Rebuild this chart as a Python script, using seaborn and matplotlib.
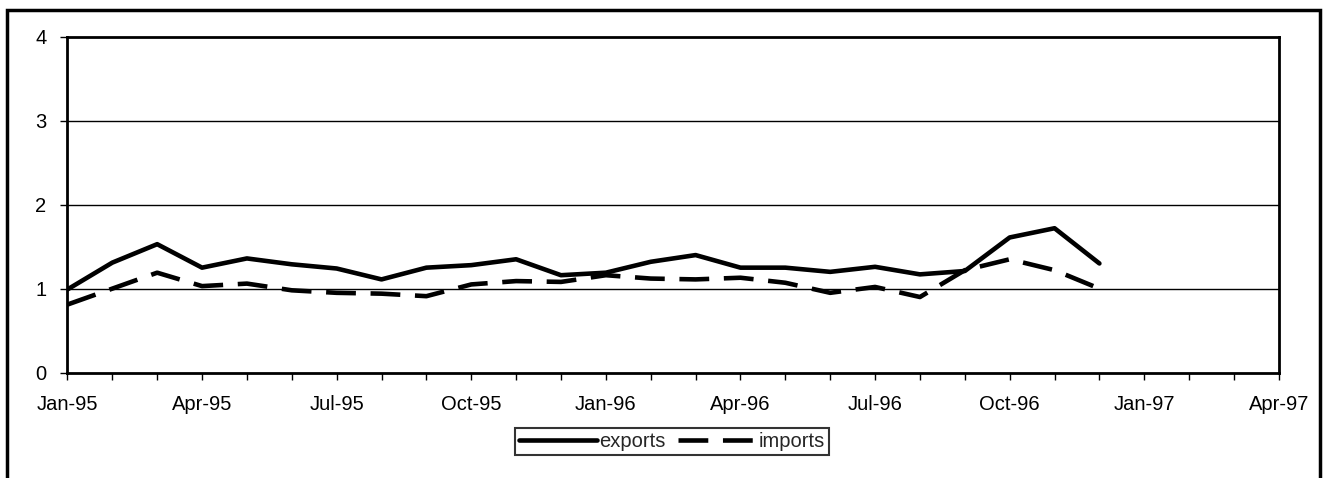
import matplotlib
matplotlib.use("Agg")
import matplotlib.pyplot as plt
from matplotlib.patches import Rectangle
import seaborn as sns
import pandas as pd

# ---- data ----
months = ["Jan-95", "Feb-95", "Mar-95", "Apr-95", "May-95", "Jun-95", "Jul-95", "Aug-95",
          "Sep-95", "Oct-95", "Nov-95", "Dec-95", "Jan-96", "Feb-96", "Mar-96", "Apr-96",
          "May-96", "Jun-96", "Jul-96", "Aug-96", "Sep-96", "Oct-96", "Nov-96", "Dec-96",
          "Jan-97", "Feb-97", "Mar-97", "Apr-97"]
exports = [0.99, 1.31, 1.53, 1.25, 1.36, 1.29, 1.24, 1.11, 1.25, 1.28, 1.35, 1.16,
           1.19, 1.32, 1.40, 1.25, 1.25, 1.20, 1.26, 1.17, 1.21, 1.61, 1.72, 1.30]
imports = [0.81, 1.00, 1.19, 1.03, 1.06, 0.98, 0.95, 0.94, 0.91, 1.05, 1.09, 1.08,
           1.16, 1.12, 1.11, 1.13, 1.07, 0.95, 1.02, 0.90, 1.22, 1.35, 1.22, 1.00]
y_ticks = [0, 1, 2, 3, 4]

rows = []
for name, vals in (("exports", exports), ("imports", imports)):
    for i, v in enumerate(vals):
        rows.append({"month": i, "value": v, "series": name})
df = pd.DataFrame(rows)

sns.set_theme(style="white")
plt.rcParams["font.family"] = ["Liberation Sans", "DejaVu Sans"]

fig = plt.figure(figsize=(13.25, 4.78), dpi=100)
ax = fig.add_axes([0.0509, 0.2207, 0.9143, 0.7019])

sns.lineplot(data=df, x="month", y="value", hue="series", style="series",
             palette={"exports": "black", "imports": "black"},
             dashes={"exports": "", "imports": (6.5, 3.2)},
             linewidth=3.3, ax=ax, legend=False)

ax.set_xlim(0, len(months) - 1)
ax.set_ylim(0, 4)
ax.set_xticks(range(len(months)))
ax.set_xticklabels([m if i % 3 == 0 else "" for i, m in enumerate(months)])
ax.set_yticks(y_ticks)
ax.set_yticklabels([str(t) for t in y_ticks])
ax.set_xlabel("")
ax.set_ylabel("")
ax.tick_params(axis="both", direction="out", length=5, width=1, colors="black",
               labelsize=14.5, bottom=True, left=True)
ax.tick_params(axis="x", pad=11)
ax.tick_params(axis="y", pad=10)

for yv in [1, 2, 3]:
    ax.axhline(yv, color="black", linewidth=1.0, zorder=0)
for s in ax.spines.values():
    s.set_visible(True)
    s.set_color("black")
    s.set_linewidth(2.0)

handles = ax.get_lines()[:2]
leg = fig.legend(handles, ["exports", "imports"], loc="center",
                 bbox_to_anchor=(0.507, 0.076), ncol=2, frameon=True,
                 fontsize=14.5, handlelength=3.9, handletextpad=0.1,
                 columnspacing=0.6, borderpad=0.2, fancybox=False)
leg.get_frame().set_edgecolor("black")
leg.get_frame().set_linewidth(1.5)
for h in leg.get_lines():
    h.set_linewidth(3.3)

# outer frame
fig.patches.append(Rectangle((7 / 1325, -0.1), (1320 - 7) / 1325, 1.1 - 10 / 478,
                             transform=fig.transFigure, fill=False,
                             edgecolor="black", linewidth=2.5, clip_on=False))

fig.savefig("out.png", dpi=100)
